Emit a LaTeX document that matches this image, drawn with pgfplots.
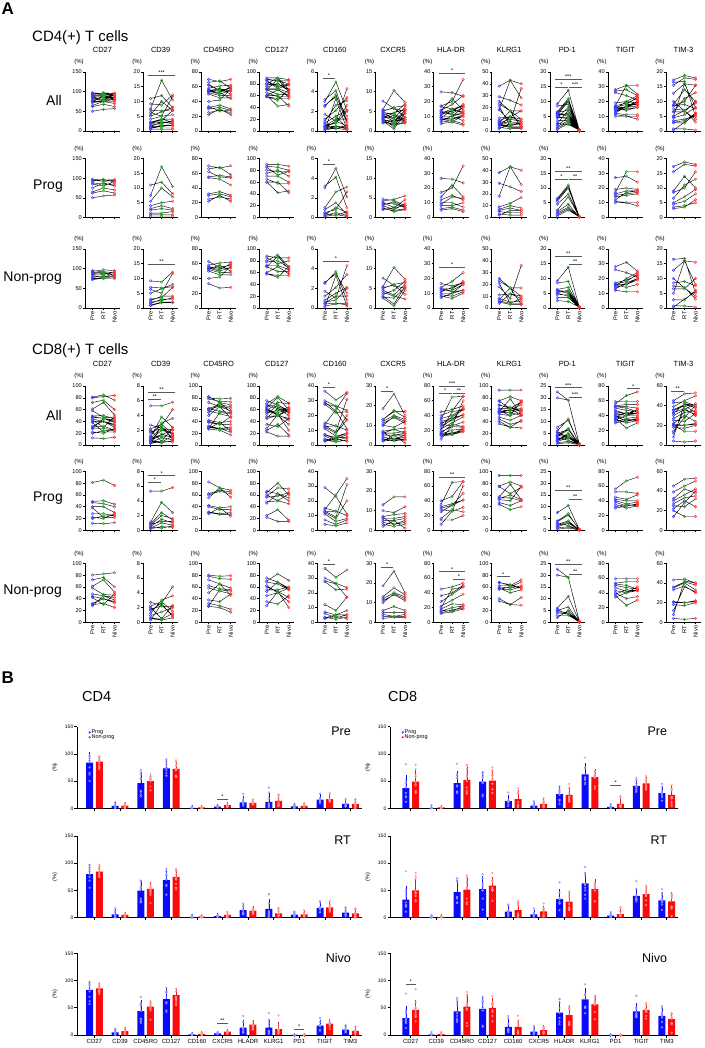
\documentclass[border=0pt]{standalone}
\usepackage{fontspec}
\setmainfont{Liberation Sans}
\usepackage{pgfplots}
\pgfplotsset{compat=1.18}
\definecolor{mblue}{RGB}{60,60,255}
\definecolor{mgreen}{RGB}{40,160,40}
\definecolor{mred}{RGB}{255,50,50}
\definecolor{bblue}{RGB}{10,10,250}
\definecolor{bred}{RGB}{250,10,10}
\definecolor{dblue}{RGB}{150,150,255}
\definecolor{dred}{RGB}{255,150,150}

\newcommand\dat[2]{\expandafter\def\csname D#1\endcsname{#2}}
\newcommand\rng[3]{\expandafter\def\csname Y#1\endcsname{#2}\expandafter\def\csname T#1\endcsname{#3}}
\newcommand\defS[2]{\expandafter\def\csname S#1\endcsname{#2}}
\newcommand\sig[4]{\draw[black!65,line width=0.45pt] (axis cs:#1,#3) -- (axis cs:#2,#3) node[midway,above,inner sep=0.4pt,black,font=\fontsize{5.5}{5.5}\selectfont]{#4};}
\newcommand\sPR[2]{\sig{0.8}{1.95}{#1}{#2}}
\newcommand\sRN[2]{\sig{2.05}{3.2}{#1}{#2}}
\newcommand\sPN[2]{\sig{0.8}{3.2}{#1}{#2}}

% ---------------- data (pre/RT/nivo per patient) ----------------
\dat{P4a}{97/95/96,95/92/94,92/97/90,88/85/85,85/80/92,75/88/80,65/75/70,62/68/62,50/55/57}
\dat{N4a}{95/92/90,93/97/95,90/90/85,88/85/92,85/88/82,82/80/80,78/82/78,76/75/75,74/78/88,72/76/80}
\dat{P4b}{11/12/8,7.5/17.2/10.5,5.5/10/7,4/5/5.5,3/4/3,2.5/3/2.5,1.5/1.5/2,1/1/1,0.5/0.5/0.5}
\dat{N4b}{9.2/8.8/12.2,7/6.8/7.2,6.3/5/11.7,5/6.5/8,3/3.5/7,2.5/4/4,2/2.5/3.5,1.5/3/3,1/2/2,0.8/1.8/1.8}
\dat{P4c}{70/67/70,66/68/58,55/57/55,54/52/44,32/35/30,30/32/28,25/28/25,22/30/22,62/55/54}
\dat{N4c}{63/55/58,58/61/62,55/52/60,54/50/55,53/58/50,52/48/48,50/45/45,40/42/57,33/27/28,56/54/54}
\dat{P4d}{90/90/87,87/85/80,80/78/78,75/80/70,70/70/60,65/58/58,60/42/45,60/60/42,85/72/78}
\dat{N4d}{88/85/85,85/75/80,80/90/70,78/80/68,72/72/65,70/62/62,60/70/58,58/55/55,58/52/70,70/88/66}
\dat{P4e}{3.2/4.1/1.0,3.0/5.0/2.1,1.0/2.6/3.1,0.8/1.5/0.3,0.5/0.8/2.6,0.3/1.0/0.5,0.2/0.5/0.2,0.1/0.3/0.1,0.4/0.2/0.6}
\dat{N4e}{2.6/3.5/1.5,2.5/3.7/0.8,1.7/1.0/4.3,1.2/2.1/3.4,0.8/1.5/2.1,0.6/0.8/2.0,0.4/0.5/0.3,0.2/0.4/0.5,0.1/3.3/0.2,0.5/1.2/1.2}
\dat{P4f}{4.7/4.3/3.0,4.2/4.6/5.5,3.8/2.5/4.5,3.5/3.5/2.5,3.0/2.0/3.5,2.5/1.5/2.0,2.0/2.5/3.0,3.2/4.0/2.5,2.2/1.8/2.2}
\dat{N4f}{7.6/5.7/5.0,5.5/10.3/7.3,5.0/6.0/6.5,4.5/3.3/6.0,3.0/1.0/5.5,2.5/0.5/4.5,5.2/5.8/3.5,4.0/3.0/2.3,3.5/4.5/6.8,2.8/2.5/5.2}
\dat{P4g}{26.5/26/23.5,17/20/35,14/22/14,12/15/12,10/10/7,8/8/10,6/7/5,5/6/4,9/14/13}
\dat{N4g}{16.5/15/17,14/18/24,13/13/18,12/12/16,10/10/12,9/8/11,8/6.5/10,7/10/16,11/14/17,13/11/12}
\dat{P4h}{38/43/40,29/26/22,18/43/28,9/12/17,7/10/8,6/8/6,5/4/4,3/2/2,2/6/6}
\dat{N4h}{25/17/17,23/17/10,18/8/36,11/12/8,8/5/6,6/4/4,5/3/3,4/12/10,21/4/8,7/17/3}
\dat{P4i}{6.5/11/0.3,6/10.5/0.2,5.5/10/0.1,4.5/8/0.4,2.5/7/0.2,2/4.5/0.1,1.5/3.5/0.3,1/3/0.1,0.5/2.5/0.2}
\dat{N4i}{9.2/13.8/0.3,8.5/9/0.2,6.3/7/0.5,5.8/5/0.1,5.2/6/0.4,4.5/4.5/0.2,3.5/3.5/0.1,2.5/2.2/0.3,5/4/0.2,6/5.5/0.1}
\dat{P4j}{27/28/24,19/20/19,17/31/31,16/18/18,15/16/17,14/15/16,12/17/18,10/10/10,11/10/8}
\dat{N4j}{28/31/25,26/24/21,16/18/23,15/20/24,14/16/20,12/11/11,15.5/14/16,17/19/22,13/17/20,16/16/19}
\dat{P4k}{17.3/18.8/18,15.5/18/17.5,9/14/10,8.5/10/15.5,6.5/11/13,5/7/9.5,4.5/5.5/8,3.5/4/5,3/3.5/6}
\dat{N4k}{16.5/16.8/5,12.8/16/15.5,8.5/9/7.5,7.5/7/3,6.5/6.5/10,2.8/2.7/6,0.7/0.7/0.3,0.3/3/5.5,5/16/8,10/6.8/4}
\dat{P8a}{81/85/76,49/50/44,47/45/40,40/40/30,38/22/22,28/28/25,22/20/28,20/24/25,12/11/13}
\dat{N8a}{80/82/84,72/76/60,61/72/51,58/47/46,48/45/42,44/40/35,32/40/33,30/32/25,28/45/38,42/30/48}
\dat{P8b}{5.3/5.3/5.8,1.1/3.8/2.4,0.9/2.4/1.4,0.7/2.0/1.6,0.5/1.5/1.0,0.3/1.0/0.7,0.2/0.5/0.4,0.8/1.2/1.2,0.4/0.3/0.6}
\dat{N8b}{2.7/2.3/1.0,2.2/2.8/1.5,2.0/0.5/2.3,1.6/2.6/4.8,1.2/3.0/3.6,0.9/1.4/2.0,0.5/0.3/0.6,0.3/2.5/0.8,1.8/2.2/2.1,0.6/0.4/1.2}
\dat{P8c}{82/72/68,62/68/65,60/66/62,55/72/56,42/38/40,40/35/35,31/28/30,30/27/27,28/38/24}
\dat{N8c}{80/78/79,78/74/73,72/65/58,62/57/55,58/53/48,50/65/46,38/35/48,32/28/22,27/25/17,28/55/53}
\dat{P8d}{66/62/55,64/80/60,58/72/70,56/58/64,48/50/45,46/62/50,25/35/17,22/15/15,60/50/62}
\dat{N8d}{75/68/58,70/82/71,68/65/55,60/52/42,55/55/60,45/50/35,35/31/45,28/52/25,52/68/56,62/50/58}
\dat{P8e}{29/23/11,15/13/10,14/24/35,13/9/31,12/8/20,11/6/8,7/4/7,4/3/5,12.5/13/10}
\dat{N8e}{36.5/30.5/35.5,30/26.5/23.5,27.5/22/22.5,12/8/17,7/5/8,6/3/5,3.5/2/3.5,2.5/4/2.5,28/26/17,3/5/5}
\dat{P8f}{13/17/17,10/9/12,7/8/8.5,6/6/7,5/5/6,4/3/5,3/2/3,2/5/1,6.5/3/4}
\dat{N8f}{18.5/26/15,13/17.5/14,12/15/13,11/14/11,10/14.5/12,6/8/6,5/5/5,3/3/4,2/2.5/2.5,4/3/3}
\dat{P8g}{40/46/66,32/36/41,30/34/50,28/26/31,16/28/25,14/14/20,8/26/60,35/65/66,25/34/41}
\dat{N8g}{45/48/53,36/40/50,28/38/48,22/30/38,18/25/24,15/20/22,13/17/19,12/14/18,20/45/48,16/15/22}
\dat{P8h}{93/93/93,75/82/75,74/62/73,57/78/52,55/55/50,52/50/74,47/42/50,44/35/40,54/60/52}
\dat{N8h}{68/62/72,67/64/58,60/58/62,58/50/55,56/60/68,40/30/42,36/30/29,57/55/60,62/62/58}
\dat{P8i}{7.5/10.5/0.3,4/7/0.2,3.5/6.5/0.5,2.5/4/0.1,2/3.5/0.3,1.5/3/0.2,0.5/1/0.1,3/2/0.2,1/1.5/0.4}
\dat{N8i}{22.5/19/0.5,20/19/0.3,6/11/0.2,5/6.5/0.1,4.5/4/0.4,4/3.5/0.2,3/3/0.1,2/5/0.3,5.5/3.2/0.2}
\dat{P8j}{56/67/72,52/52/50,45/42/48,42/40/40,40/36/38,38/33/36,35/30/33,32/35/33,30/33/35}
\dat{N8j}{59/59/59,53/55/55,50/47/45,47/42/43,43/40/48,40/32/35,36/23/30,34/40/43,52/50/45,38/44/43}
\dat{P8k}{45/52/53,39/45/50,32/42/38,30/36/42,27/33/35,25/24/32,22/30/24,20/14/14,14/28/40}
\dat{N8k}{43/44/40,36/41/38,35/40/33,33/37/30,21/20/22,18/17/20,12/36/31,8/42/40,4/3/4,20/20/21}

% axis ranges
\rng{4a}{150}{50}\rng{4b}{20}{5}\rng{4c}{80}{20}\rng{4d}{100}{20}\rng{4e}{6}{2}\rng{4f}{15}{5}
\rng{4g}{40}{10}\rng{4h}{50}{10}\rng{4i}{20}{5}\rng{4j}{40}{10}\rng{4k}{20}{5}
\rng{8a}{100}{20}\rng{8b}{8}{2}\rng{8c}{100}{20}\rng{8d}{100}{20}\rng{8e}{40}{10}\rng{8f}{30}{10}
\rng{8g}{80}{20}\rng{8h}{100}{20}\rng{8i}{25}{5}\rng{8j}{80}{20}\rng{8k}{60}{20}
\expandafter\def\csname Ma\endcsname{CD27}\expandafter\def\csname Mb\endcsname{CD39}
\expandafter\def\csname Mc\endcsname{CD45RO}\expandafter\def\csname Md\endcsname{CD127}
\expandafter\def\csname Me\endcsname{CD160}\expandafter\def\csname Mf\endcsname{CXCR5}
\expandafter\def\csname Mg\endcsname{HLA-DR}\expandafter\def\csname Mh\endcsname{KLRG1}
\expandafter\def\csname Mi\endcsname{PD-1}\expandafter\def\csname Mj\endcsname{TIGIT}
\expandafter\def\csname Mk\endcsname{TIM-3}

% significance
\defS{4Ab}{\sPN{19}{***}}
\defS{4Ae}{\sPR{5.4}{*}}
\defS{4Ag}{\sPN{39}{*}}
\defS{4Ai}{\sPN{17.7}{***}\sPR{15}{*}\sRN{15}{***}}
\defS{4Pe}{\sPR{5.4}{*}}
\defS{4Pi}{\sPN{15.8}{**}\sPR{13}{*}\sRN{13}{**}}
\defS{4Nb}{\sPN{15}{**}}
\defS{4Ne}{\sPN{4.8}{*}}
\defS{4Ng}{\sPN{27.5}{*}}
\defS{4Ni}{\sPN{17.6}{**}\sRN{15}{**}}
\defS{8Ab}{\sPN{7.15}{**}\sPR{6.2}{**}}
\defS{8Ae}{\sPR{39}{*}}
\defS{8Af}{\sPR{27.5}{*}}
\defS{8Ag}{\sPN{79.5}{***}\sPR{69.7}{*}\sRN{69.7}{**}}
\defS{8Ai}{\sPN{24.3}{***}\sRN{20.4}{***}}
\defS{8Aj}{\sRN{76.4}{*}}
\defS{8Ak}{\sPR{55}{**}}
\defS{8Pb}{\sPN{7.4}{*}\sPR{6.5}{*}}
\defS{8Pg}{\sPN{72}{**}}
\defS{8Pi}{\sPN{16.9}{**}\sRN{13.3}{**}}
\defS{8Ne}{\sPR{39.3}{*}}
\defS{8Nf}{\sPR{28}{*}}
\defS{8Ng}{\sPN{68.7}{*}\sRN{58}{*}}
\defS{8Nh}{\sPR{77.4}{*}}
\defS{8Ni}{\sPN{24.6}{**}\sRN{20.5}{**}}

% ---------------- machinery ----------------
\newcommand\acc[1]{%
 \expandafter\let\expandafter\curlist\csname D#1\endcsname
 \foreach \va/\vb/\vc in \curlist {%
  \xdef\crdL{\crdL(1,\va)(2,\vb)(3,\vc)(3,nan)}%
  \xdef\crdA{\crdA(1,\va)}\xdef\crdB{\crdB(2,\vb)}\xdef\crdC{\crdC(3,\vc)}}}
\newcommand\pts[1]{%
 \gdef\crdL{}\gdef\crdA{}\gdef\crdB{}\gdef\crdC{}%
 \foreach \k in {#1}{\acc{\k}}%
 \edef\tmp{\noexpand\addplot[ln] coordinates {\crdL};\noexpand\addplot[mA] coordinates {\crdA};\noexpand\addplot[mB] coordinates {\crdB};\noexpand\addplot[mC] coordinates {\crdC};}\tmp}
\newcommand\selA[1]{\pts{P#1,N#1}}
\newcommand\selP[1]{\pts{P#1}}
\newcommand\selN[1]{\pts{N#1}}

\newcommand\accB[4]{%
 \expandafter\let\expandafter\curlist\csname D#2\endcsname
 \foreach \va/\vb/\vc in \curlist {\expandafter\xdef\csname #1\endcsname{\csname #1\endcsname(#3,\ifcase#4\or\va\or\vb\or\vc\fi)}}}

\pgfplotsset{
 every axis/.append style={/pgf/number format/assume math mode=true},
 pan/.style={scale only axis, width=35pt, height=59pt, axis lines=left,
   axis line style={-,line width=0.6pt}, xmin=0.32, xmax=3.5, ymin=0,
   xtick={1,2,3}, xticklabels={}, tick align=outside, major tick length=2pt,
   tick style={black,line width=0.5pt},
   yticklabel style={font=\fontsize{5.6}{6}\selectfont, inner sep=1pt},
   xticklabel style={font=\fontsize{5.8}{6}\selectfont, rotate=90, anchor=east, inner sep=1.2pt},
   clip=false, unbounded coords=jump,
   title style={anchor=center, yshift=15.7pt, font=\fontsize{7.5}{8}\selectfont}},
 rowA/.style={title=\ttl}, rowP/.style={}, rowN/.style={xticklabels={Pre,RT,Nivo}},
 ln/.style={black, line width=0.42pt, mark=none},
 mA/.style={only marks, mark=o, mark size=1.3pt, mblue, mark options={line width=0.4pt}},
 mB/.style={only marks, mark=o, mark size=1.3pt, mgreen, mark options={line width=0.4pt}},
 mC/.style={only marks, mark=o, mark size=1.3pt, mred, mark options={line width=0.4pt}},
 bar/.style={scale only axis, height=81.7pt, axis lines=left, axis line style={-,line width=0.7pt},
   ymin=0, ymax=150, ytick={0,50,100,150}, xtick={0,...,10}, xticklabels={}, xmax=10.45,
   tick align=outside, major tick length=2.5pt, tick style={black,line width=0.6pt},
   yticklabel style={font=\fontsize{5}{5}\selectfont, inner sep=1pt},
   xticklabel style={font=\fontsize{6}{6}\selectfont, inner sep=1.5pt},
   clip=false, ylabel={(\%)}, ylabel style={font=\fontsize{5.5}{5.5}\selectfont, yshift=3pt},
   legend style={at={(0.03,1.0)}, anchor=north west, draw=none, fill=none,
     font=\fontsize{5.5}{5.5}\selectfont, row sep=-2.5pt, nodes={inner sep=1pt}},
   legend cell align=left},
 b4/.style={bar, xmin=-0.68, width=285pt},
 b8/.style={bar, xmin=-0.81, width=288.3pt},
 barP/.style={forget plot, ybar, bar width=7pt, bar shift=0pt, x filter/.expression={x-0.19},
   fill=bblue, draw=none,
   error bars/.cd, y dir=plus, y explicit, error bar style={draw=bblue,line width=0.5pt},
   error mark options={draw=bblue,mark size=2pt,line width=0.5pt}},
 barN/.style={forget plot, ybar, bar width=7pt, bar shift=0pt, x filter/.expression={x+0.19},
   fill=bred, draw=none,
   error bars/.cd, y dir=plus, y explicit, error bar style={draw=bred,line width=0.5pt},
   error mark options={draw=bred,mark size=2pt,line width=0.5pt}},
 dotP/.style={forget plot, only marks, mark=o, mark size=0.9pt, dblue, mark options={line width=0.45pt}},
 dotN/.style={forget plot, only marks, mark=o, mark size=0.9pt, dred, mark options={line width=0.45pt}},
}

\newcommand\pnl[4]{%
 \edef\ymx{\csname Y#1\m\endcsname}\edef\yst{\csname T#1\m\endcsname}\edef\ttl{\csname M\m\endcsname}%
 \begin{axis}[pan,row#2,at={({(85+58.1*#4)*1pt},{(1048-#3)*1pt})},anchor=south west,ymax=\ymx,ytick distance=\yst]
 \csname sel#2\endcsname{#1\m}%
 \node[font=\fontsize{6}{6}\selectfont,inner sep=0] at ([xshift=-6pt,yshift=9.7pt]rel axis cs:0,1) {(\%)};
 \ifcsname S#1#2\m\endcsname\csname S#1#2\m\endcsname\fi
 \end{axis}}
\newcommand\arow[3]{\foreach \m [count=\ci from 0] in {a,b,c,d,e,f,g,h,i,j,k}{\pnl{#1}{#2}{#3}{\ci}}}

\newcommand\bpnl[7]{%
 \gdef\crdD{}\gdef\crdE{}%
 \foreach \m [count=\ci from 0] in {a,b,c,d,e,f,g,h,i,j,k}{%
  \pgfmathsetmacro\xp{\ci-0.19}\accB{crdD}{P#1\m}{\xp}{#2}%
  \pgfmathsetmacro\xp{\ci+0.19}\accB{crdE}{N#1\m}{\xp}{#2}}%
 \begin{axis}[#3]
 #6
 \addplot[barP] coordinates {#4};
 \addplot[barN] coordinates {#5};
 \edef\tmp{\noexpand\addplot[dotP] coordinates {\crdD};\noexpand\addplot[dotN] coordinates {\crdE};}\tmp
 #7
 \end{axis}}
\newcommand\lgd{\addlegendimage{only marks,mark=*,mark size=0.9pt,mblue}\addlegendentry{Prog}%
 \addlegendimage{only marks,mark=*,mark size=0.9pt,mred}\addlegendentry{Non-prog}}
\newcommand\tl[1]{\node[anchor=north east,inner sep=0,font=\fontsize{12.5}{12.5}\selectfont] at ([xshift=-11pt]rel axis cs:1,1) {#1};}
\newcommand\xl{xticklabels={CD27,CD39,CD45RO,CD127,CD160,CXCR5,HLADR,KLRG1,PD1,TIGIT,TIM3}}

\begin{document}
\begin{tikzpicture}
\useasboundingbox (0,0) rectangle (704pt,1048pt);
\node[anchor=north west,inner sep=0,font=\bfseries\fontsize{17}{17}\selectfont] at (1.5pt,1045pt) {A};
\node[anchor=west,inner sep=0,font=\fontsize{15}{15}\selectfont] at (32pt,{(1048-37.7)*1pt}) {CD4(+) T cells};
\node[anchor=east,inner sep=0,font=\fontsize{14}{14}\selectfont] at (62pt,{(1048-100)*1pt}) {All};
\node[anchor=east,inner sep=0,font=\fontsize{14}{14}\selectfont] at (63pt,{(1048-186)*1pt}) {Prog};
\node[anchor=east,inner sep=0,font=\fontsize{14}{14}\selectfont] at (62pt,{(1048-277.7)*1pt}) {Non-prog};
\arow{4}{A}{131}
\arow{4}{P}{217.5}
\arow{4}{N}{308}
\node[anchor=west,inner sep=0,font=\fontsize{15}{15}\selectfont] at (32pt,{(1048-351)*1pt}) {CD8(+) T cells};
\node[anchor=east,inner sep=0,font=\fontsize{14}{14}\selectfont] at (62pt,{(1048-415)*1pt}) {All};
\node[anchor=east,inner sep=0,font=\fontsize{14}{14}\selectfont] at (63pt,{(1048-498.3)*1pt}) {Prog};
\node[anchor=east,inner sep=0,font=\fontsize{14}{14}\selectfont] at (62pt,{(1048-591)*1pt}) {Non-prog};
\arow{8}{A}{445}
\arow{8}{P}{530.3}
\arow{8}{N}{622.3}

\node[anchor=north west,inner sep=0,font=\bfseries\fontsize{17}{17}\selectfont] at (1.5pt,{(1048-671.5)*1pt}) {B};
\node[anchor=west,inner sep=0,font=\fontsize{14.5}{14.5}\selectfont] at (82pt,{(1048-697)*1pt}) {CD4};
\node[anchor=west,inner sep=0,font=\fontsize{14.5}{14.5}\selectfont] at (388pt,{(1048-697)*1pt}) {CD8};

\bpnl{4}{1}{b4,at={(77pt,{(1048-808.3)*1pt})},anchor=south west}
 {(0,84)+-(0,15) (1,4.3)+-(0,3.5) (2,46)+-(0,17) (3,73.5)+-(0,11) (4,1)+-(0,1.2) (5,3)+-(0,1) (6,11)+-(0,7) (7,12)+-(0,13) (8,3.5)+-(0,2.5) (9,16)+-(0,6) (10,8)+-(0,5)}
 {(0,85.7)+-(0,7) (1,5)+-(0,3) (2,50)+-(0,8) (3,72.3)+-(0,11) (4,1.5)+-(0,1) (5,6)+-(0,1.8) (6,10)+-(0,3.5) (7,13.5)+-(0,9) (8,4.5)+-(0,2.3) (9,17)+-(0,6) (10,8)+-(0,6)}
 {\lgd}{\tl{Pre}\sig{4.8}{5.2}{16.5}{*}}
\bpnl{4}{2}{b4,at={(77pt,{(1048-917.7)*1pt})},anchor=south west}
 {(0,80)+-(0,14) (1,6)+-(0,6) (2,49.6)+-(0,16) (3,69)+-(0,15) (4,1.5)+-(0,1.7) (5,3)+-(0,1.2) (6,14)+-(0,7) (7,16)+-(0,15) (8,5.5)+-(0,3.5) (9,18)+-(0,7) (10,9.5)+-(0,6)}
 {(0,84.5)+-(0,8) (1,5)+-(0,2.5) (2,52.7)+-(0,9) (3,75)+-(0,11) (4,1.8)+-(0,1.3) (5,5)+-(0,3) (6,13)+-(0,4) (7,8)+-(0,5) (8,6)+-(0,3) (9,19)+-(0,6) (10,8)+-(0,6)}
 {}{\tl{RT}}
\bpnl{4}{3}{b4,at={(77pt,{(1048-1035)*1pt})},anchor=south west,\xl}
 {(0,82.7)+-(0,13) (1,5)+-(0,4) (2,44)+-(0,17) (3,66)+-(0,16) (4,1)+-(0,1.2) (5,3)+-(0,1.3) (6,13.5)+-(0,10) (7,13.5)+-(0,13) (8,0.2)+-(0,0.1) (9,17)+-(0,7) (10,10)+-(0,5)}
 {(0,85.7)+-(0,7) (1,7)+-(0,3.5) (2,52)+-(0,9) (3,73)+-(0,10) (4,2)+-(0,1.4) (5,6)+-(0,1.5) (6,19)+-(0,4.5) (7,11)+-(0,10) (8,0.3)+-(0,0.2) (9,21)+-(0,4) (10,7.5)+-(0,5)}
 {}{\tl{Nivo}\sig{4.8}{5.2}{21.4}{**}\sig{7.8}{8.2}{10.4}{*}}

\bpnl{8}{1}{b8,at={(390pt,{(1048-808.3)*1pt})},anchor=south west}
 {(0,37)+-(0,20) (1,0.5)+-(0,1.6) (2,46)+-(0,18) (3,49)+-(0,16) (4,13)+-(0,8) (5,5)+-(0,3.5) (6,26)+-(0,11) (7,62.4)+-(0,17) (8,2.5)+-(0,2.3) (9,41)+-(0,9) (10,28)+-(0,10)}
 {(0,49)+-(0,17) (1,1.5)+-(0,0.9) (2,52)+-(0,20) (3,51)+-(0,17) (4,17)+-(0,13) (5,8)+-(0,5) (6,24.5)+-(0,11) (7,57)+-(0,11) (8,8)+-(0,8) (9,45.6)+-(0,8) (10,24.5)+-(0,13)}
 {\lgd}{\tl{Pre}\sig{7.8}{8.2}{42}{*}}
\bpnl{8}{2}{b8,at={(390pt,{(1048-917.7)*1pt})},anchor=south west}
 {(0,33)+-(0,22) (1,0.8)+-(0,1.3) (2,47)+-(0,18) (3,52.6)+-(0,20) (4,11)+-(0,7) (5,6)+-(0,4.5) (6,34)+-(0,15) (7,63)+-(0,18) (8,3.6)+-(0,3) (9,40)+-(0,11) (10,32)+-(0,11)}
 {(0,50)+-(0,18) (1,1.2)+-(0,1) (2,51.4)+-(0,20) (3,58.7)+-(0,12) (4,14)+-(0,11) (5,11.5)+-(0,7) (6,29.6)+-(0,14) (7,52.6)+-(0,14) (8,6.7)+-(0,6) (9,43.5)+-(0,11) (10,30)+-(0,13)}
 {}{\tl{RT}}
\bpnl{8}{3}{b8,at={(390pt,{(1048-1035)*1pt})},anchor=south west,\xl}
 {(0,31)+-(0,19) (1,0.8)+-(0,1.8) (2,43.5)+-(0,16) (3,48)+-(0,18) (4,14.7)+-(0,11) (5,6)+-(0,5) (6,41)+-(0,17) (7,65.5)+-(0,17) (8,0.3)+-(0,0.2) (9,43.5)+-(0,12) (10,35)+-(0,11)}
 {(0,46)+-(0,15) (1,1.5)+-(0,1.3) (2,52)+-(0,20) (3,50)+-(0,14) (4,14.7)+-(0,10) (5,9)+-(0,5) (6,36.7)+-(0,14) (7,56)+-(0,13) (8,0.4)+-(0,0.2) (9,46)+-(0,8) (10,29)+-(0,10)}
 {}{\tl{Nivo}\sig{-0.2}{0.2}{93}{*}}
\end{tikzpicture}
\end{document}
